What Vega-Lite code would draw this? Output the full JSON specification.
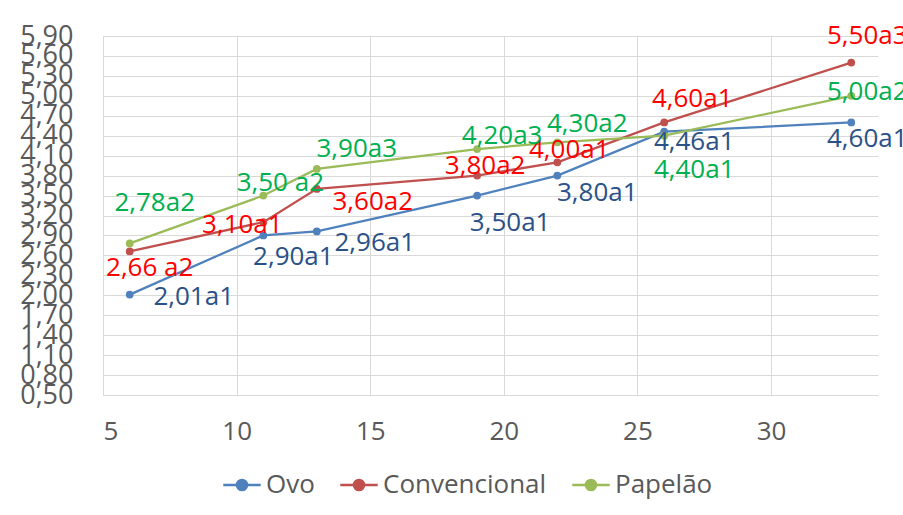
{
  "$schema": "https://vega.github.io/schema/vega-lite/v6.json",
  "width": 775,
  "height": 359,
  "autosize": "none",
  "padding": {"left": 103, "top": 36, "right": 25, "bottom": 120},
  "background": "white",
  "config": {
    "view": {"stroke": null},
    "font": "Open Sans",
    "axis": {"gridColor": "#D9D9D9", "gridWidth": 1, "domain": false, "ticks": false, "labelColor": "#595959", "labelFont": "Open Sans", "labelFontSize": 26, "title": null}
  },
  "data": {
    "values": [
      {"serie": "Ovo", "x": 6, "y": 2.01, "rotulo": "2,01a1"},
      {"serie": "Ovo", "x": 11, "y": 2.90, "rotulo": "2,90a1"},
      {"serie": "Ovo", "x": 13, "y": 2.96, "rotulo": "2,96a1"},
      {"serie": "Ovo", "x": 19, "y": 3.50, "rotulo": "3,50a1"},
      {"serie": "Ovo", "x": 22, "y": 3.80, "rotulo": "3,80a1"},
      {"serie": "Ovo", "x": 26, "y": 4.46, "rotulo": "4,46a1"},
      {"serie": "Ovo", "x": 33, "y": 4.60, "rotulo": "4,60a1"},
      {"serie": "Convencional", "x": 6, "y": 2.66, "rotulo": "2,66 a2"},
      {"serie": "Convencional", "x": 11, "y": 3.10, "rotulo": "3,10a1"},
      {"serie": "Convencional", "x": 13, "y": 3.60, "rotulo": "3,60a2"},
      {"serie": "Convencional", "x": 19, "y": 3.80, "rotulo": "3,80a2"},
      {"serie": "Convencional", "x": 22, "y": 4.00, "rotulo": "4,00a1"},
      {"serie": "Convencional", "x": 26, "y": 4.60, "rotulo": "4,60a1"},
      {"serie": "Convencional", "x": 33, "y": 5.50, "rotulo": "5,50a3"},
      {"serie": "Papelão", "x": 6, "y": 2.78, "rotulo": "2,78a2"},
      {"serie": "Papelão", "x": 11, "y": 3.50, "rotulo": "3,50 a2"},
      {"serie": "Papelão", "x": 13, "y": 3.90, "rotulo": "3,90a3"},
      {"serie": "Papelão", "x": 19, "y": 4.20, "rotulo": "4,20a3"},
      {"serie": "Papelão", "x": 22, "y": 4.30, "rotulo": "4,30a2"},
      {"serie": "Papelão", "x": 26, "y": 4.40, "rotulo": "4,40a1"},
      {"serie": "Papelão", "x": 33, "y": 5.00, "rotulo": "5,00a2"}
    ]
  },
  "encoding": {
    "x": {"field": "x", "type": "quantitative", "scale": {"domain": [5, 34], "nice": false, "zero": false}, "axis": {"values": [5, 10, 15, 20, 25, 30], "labelPadding": 23}},
    "y": {"field": "y", "type": "quantitative", "scale": {"domain": [0.5, 5.9], "nice": false, "zero": false}, "axis": {"values": [0.5, 0.8, 1.1, 1.4, 1.7, 2.0, 2.3, 2.6, 2.9, 3.2, 3.5, 3.8, 4.1, 4.4, 4.7, 5.0, 5.3, 5.6, 5.9], "labelOverlap": false, "labelPadding": 30, "labelFontSize": 27, "labelExpr": "replace(format(datum.value, '.2f'), '.', ',')"}}
  },
  "layer": [
    {
      "mark": {"type": "line", "strokeWidth": 2.25, "point": {"filled": true, "size": 60}},
      "encoding": {
        "color": {
          "field": "serie", "type": "nominal",
          "scale": {"domain": ["Ovo", "Convencional", "Papelão"], "range": ["#4F81BD", "#C0504D", "#9BBB59"]},
          "legend": {
            "orient": "none", "legendX": 119, "legendY": 429, "direction": "horizontal", "title": null,
            "symbolType": "M-1,0L1,0M-0.27,0A0.27,0.27,0,1,1,0.27,0A0.27,0.27,0,1,1,-0.27,0Z",
            "symbolSize": 1400, "symbolStrokeWidth": 2.5,
            "labelFont": "Open Sans", "labelFontSize": 26, "labelColor": "#595959", "labelOffset": 4, "labelLimit": 400,
            "columnPadding": 20, "padding": 0,
            "encode": {"symbols": {"update": {"fill": {"scale": "color", "field": "value"}, "opacity": {"value": 1}}}}
          }
        }
      }
    },
    {
      "mark": {
        "type": "text", "font": "Open Sans", "fontSize": 26, "align": "center", "baseline": "middle",
        "dx": {"expr": "({'Ovo|6': 64, 'Ovo|11': 30, 'Ovo|13': 58, 'Ovo|19': 33, 'Ovo|22': 40, 'Ovo|26': 30, 'Ovo|33': 16, 'Convencional|6': 20, 'Convencional|11': -21, 'Convencional|13': 56, 'Convencional|19': 8, 'Convencional|22': 12, 'Convencional|26': 28, 'Convencional|33': 16, 'Papelão|6': 25, 'Papelão|11': 17, 'Papelão|13': 40, 'Papelão|19': 25, 'Papelão|22': 30, 'Papelão|26': 30, 'Papelão|33': 16})[datum.serie + '|' + datum.x]"},
        "dy": {"expr": "({'Ovo|6': 2, 'Ovo|11': 22, 'Ovo|13': 12, 'Ovo|19': 27, 'Ovo|22': 17, 'Ovo|26': 10, 'Ovo|33': 17, 'Convencional|6': 17, 'Convencional|11': 3, 'Convencional|13': 13, 'Convencional|19': -10, 'Convencional|22': -12, 'Convencional|26': -23, 'Convencional|33': -27, 'Papelão|6': -40, 'Papelão|11': -13, 'Papelão|13': -20, 'Papelão|19': -13, 'Papelão|22': -18, 'Papelão|26': 34, 'Papelão|33': -4})[datum.serie + '|' + datum.x]"}
      },
      "encoding": {
        "text": {"field": "rotulo"},
        "fill": {"field": "serie", "type": "nominal", "scale": {"domain": ["Ovo", "Convencional", "Papelão"], "range": ["#2A5188", "#FF0000", "#00B050"]}, "legend": null}
      }
    }
  ]
}
